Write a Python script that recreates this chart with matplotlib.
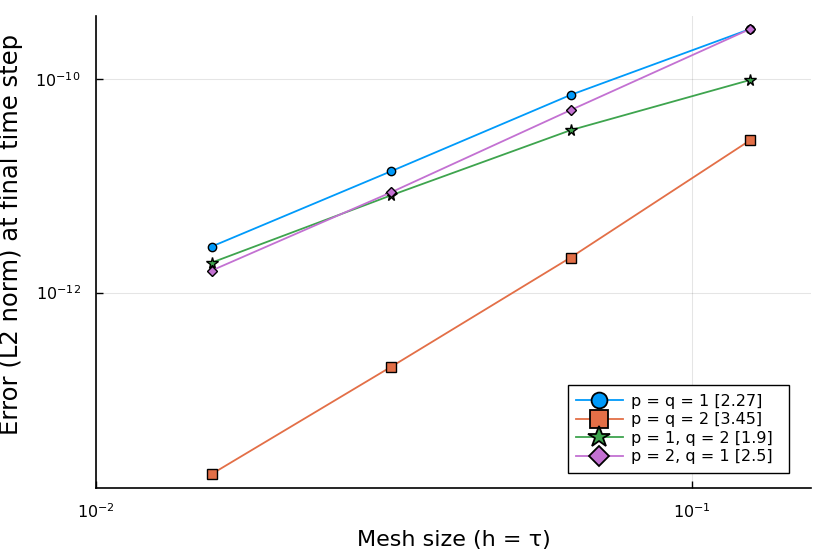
import matplotlib
matplotlib.use('Agg')
import matplotlib.pyplot as plt
from matplotlib.lines import Line2D
import numpy as np

# mesh sizes (h = tau)
h = [1/64, 1/32, 1/16, 1/8]

err_pq1 = [2.7e-12, 1.37e-11, 7.1e-11, 2.94e-10]
err_pq2 = [2.0e-14, 2.02e-13, 2.13e-12, 2.67e-11]
err_p1q2 = [1.91e-12, 8.15e-12, 3.32e-11, 9.8e-11]
err_p2q1 = [1.61e-12, 8.7e-12, 5.12e-11, 2.94e-10]

labels = ['p = q = 1 [2.27]', 'p = q = 2 [3.45]', 'p = 1, q = 2 [1.9]', 'p = 2, q = 1 [2.5]']
colours = ['#009AFA', '#E36F47', '#3EA44E', '#C371D2']
markers = ['o', 's', '*', 'D']
msizes = [6, 7, 8.5, 5.5]
series = [err_pq1, err_pq2, err_p1q2, err_p2q1]

fig = plt.figure(figsize=(8.3, 5.54), dpi=100)
ax = fig.add_axes([0.1157, 0.119, 0.862, 0.852])

for s, c, m, ms in zip(series, colours, markers, msizes):
    ax.plot(h, s, color=c, lw=1.3, marker=m, ms=ms, mfc=c, mec='black', mew=1.0)

ax.set_xscale('log')
ax.set_yscale('log')
ax.set_xlim(1e-2, 10**-0.8)
ax.set_ylim(10**-13.83, 10**-9.41)
ax.set_xticks([1e-2, 1e-1])
ax.set_yticks([1e-12, 1e-10])
ax.minorticks_off()
ax.tick_params(direction='in', length=5, labelsize=11.5, width=1)
ax.tick_params(axis='x', pad=10)
ax.tick_params(axis='y', pad=11)
ax.grid(True, color='black', alpha=0.1, lw=0.8)
for side in ['top', 'right']:
    ax.spines[side].set_visible(False)
ax.spines['left'].set_linewidth(1.2)
ax.spines['bottom'].set_linewidth(1.2)

ax.set_xlabel('Mesh size (h = τ)', fontsize=16, labelpad=7)
ax.set_ylabel('Error (L2 norm) at final time step', fontsize=17.5)
ax.yaxis.set_label_coords(-0.102, 0.537)

handles = [Line2D([0], [0], color=c, lw=1.3, marker=m, ms=ms * 1.9, mfc=c, mec='black', mew=1.3)
           for c, m, ms in zip(colours, markers, msizes)]
leg = ax.legend(handles, labels, loc='lower left', bbox_to_anchor=(0.659, 0.032, 0.310, 0.3),
                mode='expand', borderaxespad=0, fontsize=11.5, fancybox=False, framealpha=1,
                edgecolor='black', handlelength=2.9, labelspacing=0.22,
                borderpad=0.55, handletextpad=0.55)
leg.get_frame().set_linewidth(1.0)

plt.savefig('out.png', dpi=100)
plt.close()
